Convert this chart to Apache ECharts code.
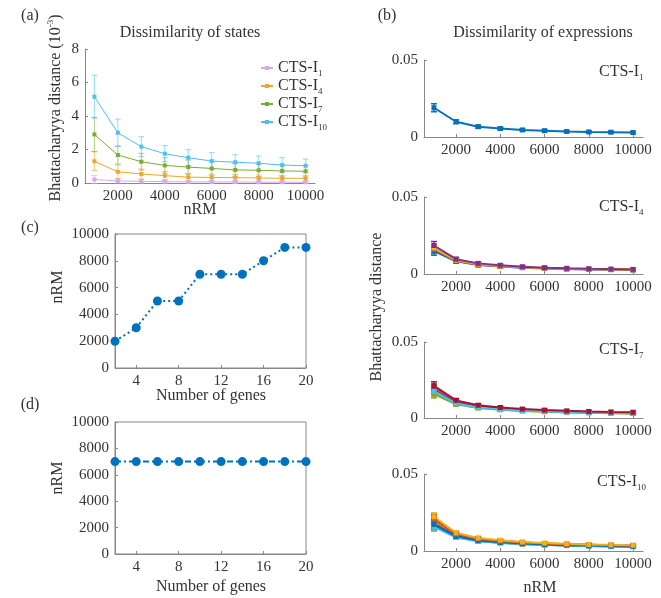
<!DOCTYPE html>
<html>
<head>
<meta charset="utf-8">
<script src="https://cdn.jsdelivr.net/npm/echarts@6/dist/echarts.min.js"></script>
<style>
  html, body { margin: 0; padding: 0; background: #fff; }
  #main { width: 661px; height: 598px; }
</style>
</head>
<body>
<div id="main"></div>
<script>
// x values
var nrm = [1000, 2000, 3000, 4000, 5000, 6000, 7000, 8000, 9000, 10000];
var nrmTicks = [2000, 4000, 6000, 8000, 10000];
var genes = [2, 4, 6, 8, 10, 12, 14, 16, 18, 20];
var geneTicks = [4, 8, 12, 16, 20];

// (a) dissimilarity of states, units of 1e-3
var statesNames = ['CTS-I1', 'CTS-I4', 'CTS-I7', 'CTS-I10'];
var statesI1 = [0.21, 0.12, 0.10, 0.08, 0.07, 0.06, 0.06, 0.05, 0.05, 0.04];
var statesI4 = [1.30, 0.67, 0.54, 0.44, 0.35, 0.33, 0.32, 0.30, 0.28, 0.28];
var statesI7 = [2.90, 1.67, 1.27, 1.05, 0.95, 0.87, 0.78, 0.76, 0.72, 0.70];
var statesI10 = [5.15, 3.00, 2.17, 1.75, 1.51, 1.31, 1.24, 1.18, 1.07, 1.03];
var errI1 = [0.24, 0.12, 0.10, 0.08, 0.07, 0.06, 0.06, 0.05, 0.05, 0.05];
var errI4 = [0.56, 0.40, 0.30, 0.25, 0.22, 0.20, 0.19, 0.18, 0.17, 0.17];
var errI7 = [1.02, 0.54, 0.50, 0.46, 0.42, 0.40, 0.38, 0.37, 0.36, 0.35];
var errI10 = [1.28, 0.82, 0.59, 0.48, 0.48, 0.50, 0.45, 0.43, 0.44, 0.40];

// (b) dissimilarity of expressions, one list per gene
var exprI1 = [
  [0.0190, 0.0099, 0.0067, 0.0055, 0.0046, 0.0041, 0.0036, 0.0033, 0.0031, 0.0029]
];
var exprI4 = [
  [0.0148, 0.0082, 0.0058, 0.0048, 0.0041, 0.0036, 0.0032, 0.0030, 0.0028, 0.0026],
  [0.0160, 0.0086, 0.0061, 0.0050, 0.0043, 0.0037, 0.0033, 0.0031, 0.0029, 0.0027],
  [0.0170, 0.0089, 0.0064, 0.0052, 0.0044, 0.0038, 0.0034, 0.0032, 0.0030, 0.0028],
  [0.0185, 0.0096, 0.0069, 0.0057, 0.0047, 0.0041, 0.0037, 0.0034, 0.0032, 0.0030]
];
var exprI7 = [
  [0.0172, 0.0098, 0.0070, 0.0058, 0.0050, 0.0044, 0.0039, 0.0036, 0.0034, 0.0032],
  [0.0198, 0.0108, 0.0078, 0.0064, 0.0055, 0.0048, 0.0043, 0.0040, 0.0037, 0.0035],
  [0.0168, 0.0094, 0.0068, 0.0056, 0.0048, 0.0042, 0.0038, 0.0035, 0.0033, 0.0031],
  [0.0185, 0.0102, 0.0074, 0.0061, 0.0052, 0.0046, 0.0041, 0.0038, 0.0035, 0.0033],
  [0.0158, 0.0090, 0.0066, 0.0054, 0.0046, 0.0041, 0.0037, 0.0034, 0.0032, 0.0030],
  [0.0176, 0.0096, 0.0069, 0.0057, 0.0049, 0.0043, 0.0039, 0.0036, 0.0033, 0.0031],
  [0.0212, 0.0116, 0.0084, 0.0069, 0.0059, 0.0052, 0.0047, 0.0043, 0.0040, 0.0038]
];
var exprI10 = [
  [0.0165, 0.0092, 0.0066, 0.0054, 0.0046, 0.0040, 0.0036, 0.0033, 0.0031, 0.0029],
  [0.0200, 0.0108, 0.0077, 0.0063, 0.0054, 0.0047, 0.0042, 0.0039, 0.0036, 0.0034],
  [0.0185, 0.0102, 0.0073, 0.0060, 0.0051, 0.0045, 0.0040, 0.0037, 0.0034, 0.0032],
  [0.0178, 0.0098, 0.0070, 0.0058, 0.0049, 0.0043, 0.0039, 0.0036, 0.0033, 0.0031],
  [0.0160, 0.0090, 0.0065, 0.0053, 0.0045, 0.0040, 0.0036, 0.0033, 0.0031, 0.0029],
  [0.0155, 0.0088, 0.0064, 0.0052, 0.0045, 0.0039, 0.0035, 0.0032, 0.0030, 0.0028],
  [0.0212, 0.0113, 0.0081, 0.0066, 0.0056, 0.0049, 0.0044, 0.0041, 0.0038, 0.0036],
  [0.0172, 0.0095, 0.0068, 0.0056, 0.0048, 0.0042, 0.0038, 0.0035, 0.0032, 0.0030],
  [0.0205, 0.0110, 0.0079, 0.0065, 0.0055, 0.0048, 0.0043, 0.0040, 0.0037, 0.0035],
  [0.0222, 0.0118, 0.0085, 0.0070, 0.0059, 0.0052, 0.0047, 0.0043, 0.0040, 0.0038]
];
var exprErr = [0.0026, 0.0012, 0.0010, 0.0008, 0.0007, 0.0007, 0.0006, 0.0006, 0.0006, 0.0006];

// (c) and (d) chosen nRM
var nrmGenesC = [2000, 3000, 5000, 5000, 7000, 7000, 7000, 8000, 9000, 9000];
var nrmGenesD = [7000, 7000, 7000, 7000, 7000, 7000, 7000, 7000, 7000, 7000];

var FONT = "'Liberation Serif', 'DejaVu Serif', serif";
var TXT = '#333';
var AXC = '#888';
var mat = ['#0072BD', '#D95319', '#EDB120', '#7E2F8E', '#77AC30', '#4DBEEE', '#A2142F'];
var stateColors = ['#d6a8f2', '#f0a52b', '#79ac35', '#4fbfee'];

var myChart = echarts.init(document.getElementById('main'));

function errBar(color, capW, width, opacity) {
    return function (params, api) {
        var x = api.value(0), y = api.value(1), e = api.value(2);
        var hi = api.coord([x, y + e]);
        var lo = api.coord([x, y - e]);
        var st = { stroke: color, lineWidth: width, opacity: opacity };
        return {
            type: 'group',
            children: [
                { type: 'line', shape: { x1: hi[0], y1: hi[1], x2: lo[0], y2: lo[1] }, style: st },
                { type: 'line', shape: { x1: hi[0] - capW, y1: hi[1], x2: hi[0] + capW, y2: hi[1] }, style: st },
                { type: 'line', shape: { x1: lo[0] - capW, y1: lo[1], x2: lo[0] + capW, y2: lo[1] }, style: st }
            ]
        };
    };
}

function plain(v) { return String(v); }

function xAx(gi, min, max, ticks) {
    return {
        type: 'value', gridIndex: gi, min: min, max: max,
        splitLine: { show: false },
        axisLine: { lineStyle: { color: AXC, width: 1 } },
        axisTick: { inside: true, length: 3, customValues: ticks, lineStyle: { color: AXC } },
        axisLabel: { customValues: ticks, formatter: plain, color: TXT, fontFamily: FONT, fontSize: 15, margin: 6 }
    };
}
function yAx(gi, max, interval) {
    return {
        type: 'value', gridIndex: gi, min: 0, max: max, interval: interval,
        splitLine: { show: false },
        axisLine: { show: true, lineStyle: { color: AXC, width: 1 } },
        axisTick: { show: true, inside: true, length: 3, lineStyle: { color: AXC } },
        axisLabel: { formatter: plain, color: TXT, fontFamily: FONT, fontSize: 15, margin: 6 }
    };
}

var grids = [
    { left: 85, top: 49, width: 230, height: 134 },
    { left: 115, top: 234, width: 191, height: 134, show: true, borderColor: AXC, borderWidth: 1 },
    { left: 115, top: 422, width: 191, height: 132, show: true, borderColor: AXC, borderWidth: 1 },
    { left: 424, top: 60, width: 219, height: 77 },
    { left: 424, top: 197, width: 219, height: 77 },
    { left: 424, top: 342, width: 219, height: 76 },
    { left: 424, top: 474, width: 219, height: 77 }
];

var xAxes = [
    xAx(0, 600, 10400, nrmTicks),
    xAx(1, 2, 20, geneTicks),
    xAx(2, 2, 20, geneTicks),
    xAx(3, 550, 10450, nrmTicks),
    xAx(4, 550, 10450, nrmTicks),
    xAx(5, 550, 10450, nrmTicks),
    xAx(6, 550, 10450, nrmTicks)
];
var yAxes = [
    yAx(0, 8, 2),
    yAx(1, 10000, 2000),
    yAx(2, 10000, 2000),
    yAx(3, 0.05, 0.05),
    yAx(4, 0.05, 0.05),
    yAx(5, 0.05, 0.05),
    yAx(6, 0.05, 0.05)
];

var series = [];

// panel (a)
var statesVals = [statesI1, statesI4, statesI7, statesI10];
var statesErrs = [errI1, errI4, errI7, errI10];
statesVals.forEach(function (vals, k) {
    series.push({
        type: 'custom', xAxisIndex: 0, yAxisIndex: 0, silent: true,
        renderItem: errBar(stateColors[k], 3, 1, 0.6),
        encode: { x: 0, y: 1 },
        data: nrm.map(function (x, i) { return [x, vals[i], statesErrs[k][i]]; })
    });
    series.push({
        name: statesNames[k], type: 'line', xAxisIndex: 0, yAxisIndex: 0,
        symbol: 'rect', symbolSize: 4,
        itemStyle: { color: stateColors[k] },
        lineStyle: { width: 1, color: stateColors[k] },
        data: nrm.map(function (x, i) { return [x, vals[i]]; })
    });
});

// panel (c), (d)
series.push({
    type: 'line', xAxisIndex: 1, yAxisIndex: 1,
    symbol: 'circle', symbolSize: 9,
    itemStyle: { color: '#0072BD' },
    lineStyle: { width: 2, type: [2, 3], color: '#0072BD' },
    data: genes.map(function (g, i) { return [g, nrmGenesC[i]]; })
});
series.push({
    type: 'line', xAxisIndex: 2, yAxisIndex: 2,
    symbol: 'circle', symbolSize: 9,
    itemStyle: { color: '#0072BD' },
    lineStyle: { width: 2, type: [6, 3, 2, 3], color: '#0072BD' },
    data: genes.map(function (g, i) { return [g, nrmGenesD[i]]; })
});

// panel (b)
[exprI1, exprI4, exprI7, exprI10].forEach(function (group, p) {
    group.forEach(function (vals, k) {
        var c = mat[k % mat.length];
        series.push({
            type: 'custom', xAxisIndex: 3 + p, yAxisIndex: 3 + p, silent: true,
            renderItem: errBar(c, 3, 1.5, 1),
            encode: { x: 0, y: 1 },
            data: nrm.map(function (x, i) { return [x, vals[i], exprErr[i]]; })
        });
        series.push({
            type: 'line', xAxisIndex: 3 + p, yAxisIndex: 3 + p,
            symbol: 'rect', symbolSize: 5,
            itemStyle: { color: c },
            lineStyle: { width: 2, color: c },
            data: nrm.map(function (x, i) { return [x, vals[i]]; })
        });
    });
});

function txt(x, y, text, size, opts) {
    var o = {
        type: 'text', x: x, y: y,
        style: {
            text: text, fill: TXT, font: size + 'px ' + FONT,
            fontFamily: FONT, fontSize: size,
            align: 'center', verticalAlign: 'middle'
        }
    };
    if (opts) {
        for (var k in opts) {
            if (k === 'style') { for (var s in opts.style) o.style[s] = opts.style[s]; }
            else o[k] = opts[k];
        }
    }
    return o;
}

var subRich = {
    n: { fontFamily: FONT, fontSize: 16, color: TXT, lineHeight: 20 },
    s: { fontFamily: FONT, fontSize: 9, color: TXT, lineHeight: 20, verticalAlign: 'bottom', padding: [8, 0, 0, 0] }
};
function ctsLabel(x, y, n) {
    return txt(x, y, '{n|CTS-I}{s|' + n + '}', 16, { style: { align: 'left', rich: subRich } });
}

var option = {
    backgroundColor: '#fff',
    animation: false,
    grid: grids,
    xAxis: xAxes,
    yAxis: yAxes,
    legend: {
        data: statesNames,
        orient: 'vertical',
        left: 255, top: 55,
        itemWidth: 12, itemHeight: 5, itemGap: 0,
        formatter: function (name) { return '{n|CTS-I}{s|' + name.replace('CTS-I', '') + '}'; },
        textStyle: { rich: subRich }
    },
    series: series,
    graphic: [
        txt(30, 16, '(a)', 16),
        txt(190, 33, 'Dissimilarity of states', 16),
        txt(387, 16, '(b)', 16),
        txt(543, 33, 'Dissimilarity of expressions', 16),
        txt(30, 228, '(c)', 16),
        txt(30, 405, '(d)', 16),
        txt(200, 210, 'nRM', 16),
        txt(211, 396, 'Number of genes', 16),
        txt(211, 587, 'Number of genes', 16),
        txt(58, 287, 'nRM', 16, { rotation: Math.PI / 2 }),
        txt(58, 478, 'nRM', 16, { rotation: Math.PI / 2 }),
        txt(56, 108, '{n|Bhattacharyya distance (10}{p|-3}{n|)}', 16, {
            rotation: Math.PI / 2,
            style: {
                rich: {
                    n: { fontFamily: FONT, fontSize: 16, color: TXT, lineHeight: 20 },
                    p: { fontFamily: FONT, fontSize: 9, color: TXT, lineHeight: 20, verticalAlign: 'top', padding: [0, 0, 8, 0] }
                }
            }
        }),
        txt(377, 307, 'Bhattacharyya distance', 16, { rotation: Math.PI / 2 }),
        txt(540, 588, 'nRM', 16),
        ctsLabel(599, 72, '1'),
        ctsLabel(599, 207, '4'),
        ctsLabel(599, 350, '7'),
        ctsLabel(597, 482, '10')
    ]
};
myChart.setOption(option);
</script>
</body>
</html>
